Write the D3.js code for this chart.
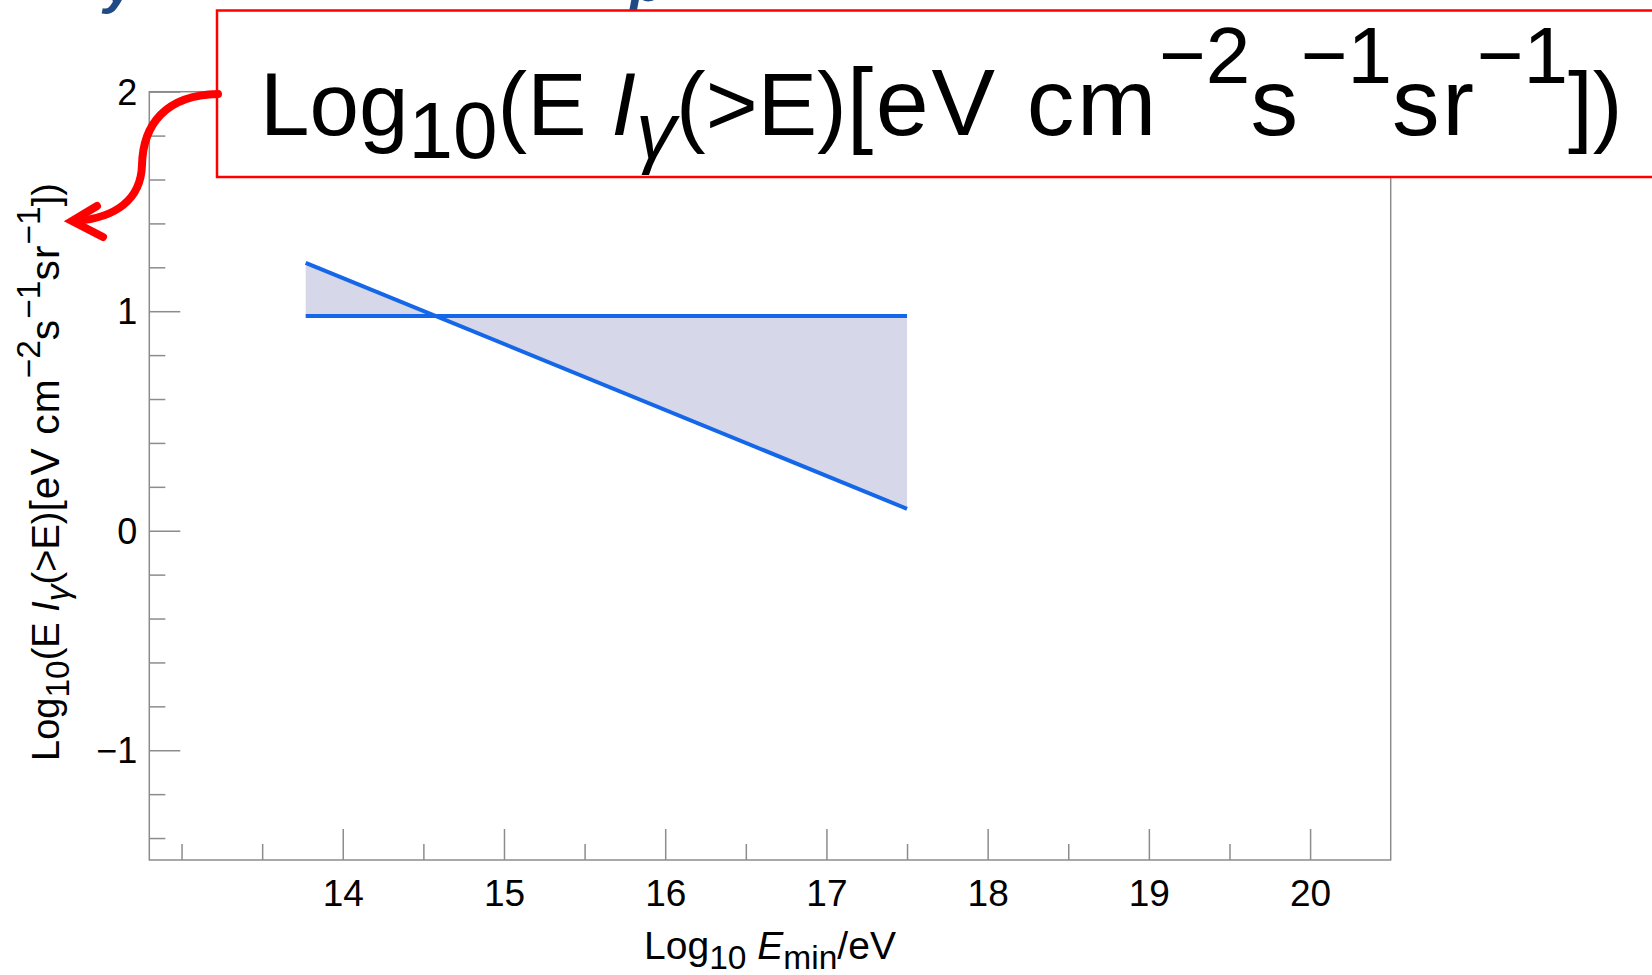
<!DOCTYPE html>
<html>
<head>
<meta charset="utf-8">
<script src="https://cdn.jsdelivr.net/npm/d3@7"></script>
<style>
  body { margin: 0; background: #fff; }
  text { font-family: "Liberation Sans", Arial, sans-serif; }
</style>
</head>
<body>
<svg id="chart" width="1652" height="975"></svg>
<script>
// Axis extents and ticks
const xDomain = [12.8, 20.5];
const yDomain = [-1.5, 2];
const xMajorTicks = [14, 15, 16, 17, 18, 19, 20];
const xMinorTicks = [13, 13.5, 14.5, 15.5, 16.5, 17.5, 18.5, 19.5];
const yMajorTicks = [-1, 0, 1, 2];
const yMinorTicks = [-1.4, -1.2, -0.8, -0.6, -0.4, -0.2, 0.2, 0.4, 0.6, 0.8, 1.2, 1.4, 1.6, 1.8];

// Upper-limit curves: log10 Emin vs log10(E I(>E))
const limitX = [13.77, 17.5];
const flatLimit = [0.978, 0.978];
const slopedLimit = [1.22, 0.10];

const svg = d3.select("#chart");
const margin = { left: 149.3, top: 91.7, right: 1652 - 1390.7, bottom: 975 - 860 };
const W = 1652 - margin.left - margin.right;
const H = 975 - margin.top - margin.bottom;

const x = d3.scaleLinear().domain(xDomain).range([0, W]);
const y = d3.scaleLinear().domain(yDomain).range([H, 0]);

const g = svg.append("g").attr("transform", `translate(${margin.left},${margin.top})`);

const frameColor = "#8c8c8c";

// Band between the two limits
const band = limitX.map((v, i) => ({ x: v, a: flatLimit[i], b: slopedLimit[i] }));
g.append("path")
  .datum(band)
  .attr("fill", "#d7d7ea")
  .attr("d", d3.area().x(d => x(d.x)).y0(d => y(d.a)).y1(d => y(d.b)));

const line = d3.line().x(d => x(d[0])).y(d => y(d[1]));
[flatLimit, slopedLimit].forEach(series => {
  g.append("path")
    .datum(limitX.map((v, i) => [v, series[i]]))
    .attr("fill", "none")
    .attr("stroke", "#1467e8")
    .attr("stroke-width", 4)
    .attr("d", line);
});

// Frame
g.append("rect")
  .attr("x", 0).attr("y", 0).attr("width", W).attr("height", H)
  .attr("fill", "none").attr("stroke", frameColor).attr("stroke-width", 1.5);

function styleAxis(sel) {
  sel.select(".domain").remove();
  sel.selectAll(".tick line").attr("stroke", frameColor).attr("stroke-width", 1.5);
  sel.selectAll("text").attr("fill", "#000").style("font-size", "37px")
    .style("font-family", '"Liberation Sans", Arial, sans-serif');
}

// Bottom axis: ticks point into the plot
g.append("g").attr("transform", `translate(0,${H})`)
  .call(d3.axisBottom(x).tickValues(xMinorTicks).tickSize(-16).tickFormat(""))
  .call(styleAxis);
g.append("g").attr("transform", `translate(0,${H})`)
  .call(d3.axisBottom(x).tickValues(xMajorTicks).tickSize(-31).tickFormat(d3.format("d")))
  .call(styleAxis)
  .call(s => s.selectAll("text").attr("y", 46).attr("dy", null));

// Left axis
g.append("g")
  .call(d3.axisLeft(y).tickValues(yMinorTicks).tickSize(-16).tickFormat(""))
  .call(styleAxis);
g.append("g")
  .call(d3.axisLeft(y).tickValues(yMajorTicks).tickSize(-31).tickFormat(d => d < 0 ? "\u2212" + Math.abs(d) : d))
  .call(styleAxis)
  .call(s => s.selectAll("text").attr("x", -12).attr("dy", "0.35em").style("font-size", "36px"));

// Rich label: segments with sub/superscripts; "w" segments use a slightly larger, looser face
function richText(parent, segs, size, opts) {
  const scale = opts.scale, subShift = opts.sub * size, supShift = opts.sup * size;
  const t = parent.append("text").style("font-size", size + "px").attr("fill", "#000");
  let prev = 0;
  segs.forEach(s => {
    const shift = s.k === "sub" ? subShift : s.k === "sup" ? -supShift : 0;
    const ts = t.append("tspan").text(s.t).attr("dy", shift - prev);
    if (s.k) ts.style("font-size", (size * scale) + "px");
    if (s.i) ts.style("font-style", "italic");
    if (s.w) ts.style("font-size", (size * 1.07) + "px").style("letter-spacing", (0.03 * size) + "px");
    prev = shift;
  });
  return t;
}

const intensityLabel = [
  { t: "Log" }, { t: "10", k: "sub" }, { t: "(E " }, { t: "I", i: true }, { t: "\u03b3", k: "sub", i: true },
  { t: "(>E)" }, { t: "[eV cm", w: true }, { t: "\u22122", k: "sup" }, { t: "s", w: true }, { t: "\u22121", k: "sup" },
  { t: "sr", w: true }, { t: "\u22121", k: "sup" }, { t: "])" }
];
const energyLabel = [
  { t: "Log" }, { t: "10", k: "sub" }, { t: " " }, { t: "E", i: true }, { t: "min", k: "sub" }, { t: "/eV" }
];

// Y axis title
richText(svg.append("g").attr("transform", "translate(59,472) rotate(-90)"),
  intensityLabel, 38, { scale: 0.88, sub: 0.25, sup: 0.5 })
  .attr("text-anchor", "middle");

// X axis title
richText(svg.append("g").attr("transform", "translate(770,959)"),
  energyLabel, 39, { scale: 0.86, sub: 0.25, sup: 0.5 })
  .attr("text-anchor", "middle");

// Heading fragments above the callout
const heading = svg.append("g")
  .style("font-weight", "bold").style("font-style", "italic").style("font-size", "56px");
heading.append("text").attr("x", 104).attr("y", 2).attr("fill", "#1f4a86").text("y");
heading.append("text").attr("x", 630).attr("y", 1).attr("fill", "#1f4a86").text("p");

// Callout box with the enlarged axis title
svg.append("rect")
  .attr("x", 217).attr("y", 10.5).attr("width", 1500).attr("height", 166.5)
  .attr("fill", "#fff").attr("stroke", "#ff0000").attr("stroke-width", 2.5);
richText(svg.append("g").attr("transform", "translate(260,135)"),
  intensityLabel, 89, { scale: 0.9, sub: 0.26, sup: 0.58 });

// Curved arrow pointing to the y axis title
svg.append("path")
  .attr("d", "M218,94 C165,95 143,125 142,165 C141,200 115,218 76,221")
  .attr("fill", "none").attr("stroke", "#ff0000").attr("stroke-width", 8).attr("stroke-linecap", "round");
svg.append("path")
  .attr("d", "M97,206 L72,221 L103,237")
  .attr("fill", "none").attr("stroke", "#ff0000").attr("stroke-width", 8)
  .attr("stroke-linecap", "round").attr("stroke-linejoin", "miter");
</script>
</body>
</html>
